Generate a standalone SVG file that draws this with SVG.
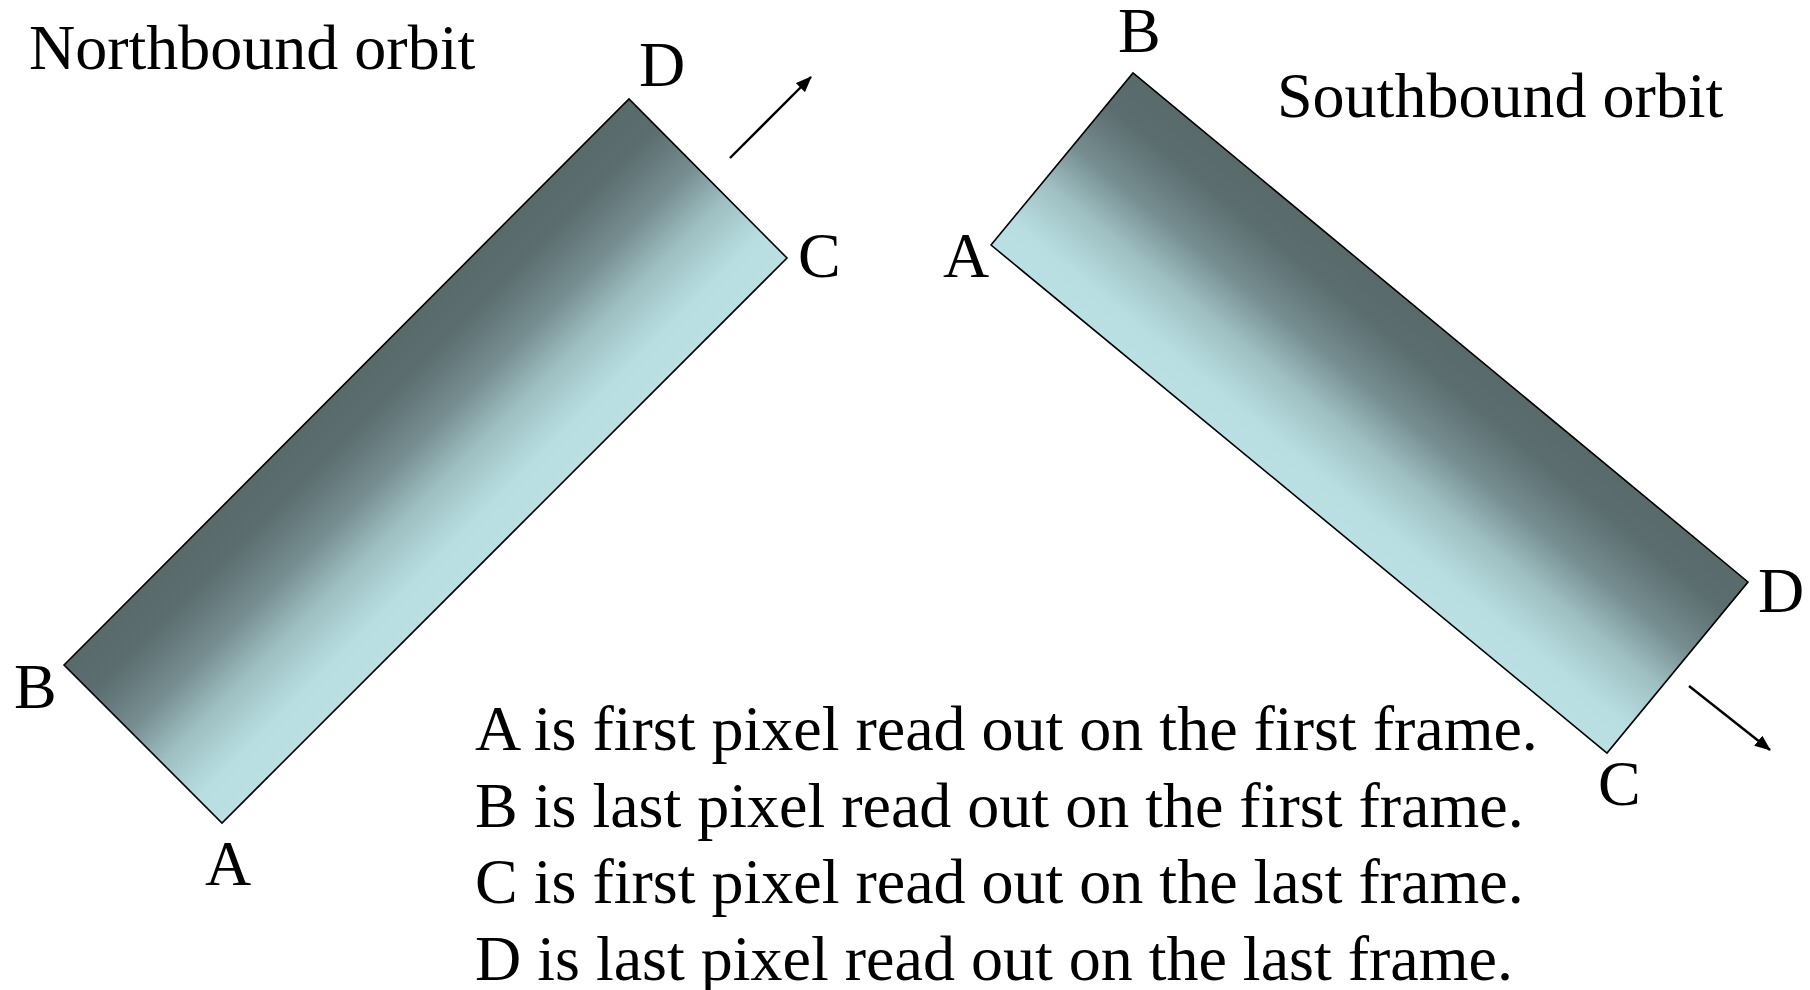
<svg xmlns="http://www.w3.org/2000/svg" width="1810" height="990" viewBox="0 0 1810 990">
<style>
text{font-family:"Liberation Serif","Times New Roman",serif;font-size:64px;fill:#000}
.strip{stroke:#000;stroke-width:1.6;stroke-linejoin:miter}
.arrow{stroke:#000;stroke-width:2.4;fill:none}
</style>
<defs>
<linearGradient id="gN" gradientUnits="userSpaceOnUse" x1="346" y1="382" x2="504" y2="540">
<stop offset="0" stop-color="#596a6b"/>
<stop offset="0.18" stop-color="#5b6d6f"/>
<stop offset="0.42" stop-color="#778e91"/>
<stop offset="0.62" stop-color="#9fbfc2"/>
<stop offset="0.85" stop-color="#b8dee1"/>
<stop offset="1" stop-color="#bae0e3"/>
</linearGradient>
<linearGradient id="gS" gradientUnits="userSpaceOnUse" x1="1441" y1="327" x2="1299" y2="500">
<stop offset="0" stop-color="#596a6b"/>
<stop offset="0.18" stop-color="#5b6d6f"/>
<stop offset="0.42" stop-color="#778e91"/>
<stop offset="0.62" stop-color="#9fbfc2"/>
<stop offset="0.85" stop-color="#b8dee1"/>
<stop offset="1" stop-color="#bae0e3"/>
</linearGradient>
<marker id="ah" markerWidth="16" markerHeight="13" refX="15" refY="6.5" orient="auto" markerUnits="userSpaceOnUse">
<path d="M0,0 L16,6.5 L0,13 Z" fill="#000"/>
</marker>
</defs>
<g id="northbound">
<polygon class="strip" fill="url(#gN)" points="64,665 629,99 787,258 222,823"/>
<text x="29" y="69">Northbound orbit</text>
<text x="639" y="86">D</text>
<text x="798" y="277">C</text>
<text x="14" y="708">B</text>
<text x="205" y="885">A</text>
</g>
<g id="southbound">
<polygon class="strip" fill="url(#gS)" points="991,245 1133,73 1748,582 1607,753"/>
<text x="1277" y="117">Southbound orbit</text>
<text x="1118" y="52">B</text>
<text x="943" y="277">A</text>
<text x="1758" y="612">D</text>
<text x="1598" y="805">C</text>
</g>
<g id="connectors">
<line class="arrow" x1="730" y1="158" x2="811" y2="77" marker-end="url(#ah)"/>
<line class="arrow" x1="1689" y1="686" x2="1770" y2="750" marker-end="url(#ah)"/>
</g>
<g id="legend">
<text x="475" y="750">A is first pixel read out on the first frame.</text>
<text x="475" y="827">B is last pixel read out on the first frame.</text>
<text x="475" y="903">C is first pixel read out on the last frame.</text>
<text x="475" y="980">D is last pixel read out on the last frame.</text>
</g>
</svg>
